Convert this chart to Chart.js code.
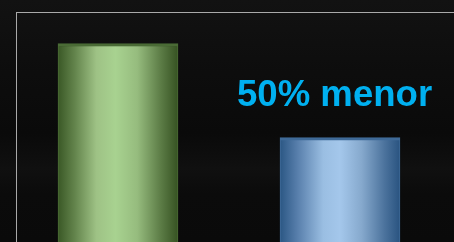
<!DOCTYPE html>
<html>
<head>
<meta charset="utf-8">
<script src="https://cdn.jsdelivr.net/npm/chart.js@4/dist/chart.umd.min.js"></script>
<style>
  html, body { margin: 0; padding: 0; }
  body {
    width: 454px; height: 242px; overflow: hidden; position: relative;
    background: linear-gradient(180deg, #121212 0%, #0d0d0d 30%, #0a0a0a 55%, #101010 70%, #0b0b0b 80%, #0a0a0a 100%);
  }
  #frame {
    position: absolute; left: 16px; top: 12px; width: 440px; height: 240px;
    border-left: 1px solid #a9a9a9; border-top: 1px solid #a9a9a9;
  }
  #wrap { position: absolute; left: 0; top: 0; width: 454px; height: 242px; }
  #note {
    position: absolute; left: 237px; top: 74px;
    font-family: "Liberation Sans", Arial, sans-serif; font-weight: bold;
    font-size: 36.6px; color: #00b0f0; white-space: nowrap; line-height: 40px;
  }
</style>
</head>
<body>
<div id="frame"></div>
<div id="wrap"><canvas id="chart"></canvas></div>
<div id="note">50% menor</div>
<script>
var categories = ["Convencional", "Nova"];
var values = [86.3, 45.4];
var yMax = 100;

var stopsGreen = [
    [0, "#3a5826"], [0.14, "#63844c"], [0.32, "#9ec285"], [0.48, "#a8d290"],
    [0.66, "#96bc7e"], [0.86, "#5b7b45"], [1, "#365222"]
];
var stopsBlue = [
    [0, "#2b5784"], [0.14, "#567daa"], [0.36, "#9abee2"], [0.5, "#a4c7eb"],
    [0.68, "#86a9cd"], [0.87, "#4c739d"], [1, "#295380"]
];
var barStops = [stopsGreen, stopsBlue];
var topColors = ["#4a6b35", "#3f6a98"];
var barW = 120;

function barFill(ctx) {
    var chart = ctx.chart;
    var xs = chart.scales.x;
    if (!xs || ctx.dataIndex === undefined) return "#888";
    var cx = xs.getPixelForValue(ctx.dataIndex);
    if (!isFinite(cx)) return barStops[ctx.dataIndex][3][1];
    var g = chart.ctx.createLinearGradient(cx - barW / 2, 0, cx + barW / 2, 0);
    barStops[ctx.dataIndex].forEach(function (s) { g.addColorStop(s[0], s[1]); });
    return g;
}

new Chart(document.getElementById("chart").getContext("2d"), {
    type: "bar",
    data: {
        labels: categories,
        datasets: [
            {
                data: values,
                backgroundColor: barFill,
                borderColor: function (ctx) { return topColors[ctx.dataIndex] || "#555"; },
                borderWidth: { top: 3, left: 1, right: 1, bottom: 0 },
                borderSkipped: "bottom",
                barThickness: barW
            }
        ]
    },
    options: {
        responsive: true,
        maintainAspectRatio: false,
        animation: false,
        layout: { padding: { left: 7, right: 3, top: 12, bottom: 0 } },
        plugins: {
            legend: { display: false },
            tooltip: { enabled: false },
            title: { display: false }
        },
        scales: {
            x: { display: false },
            y: { display: false, min: 0, max: yMax }
        }
    }
});
</script>
</body>
</html>
